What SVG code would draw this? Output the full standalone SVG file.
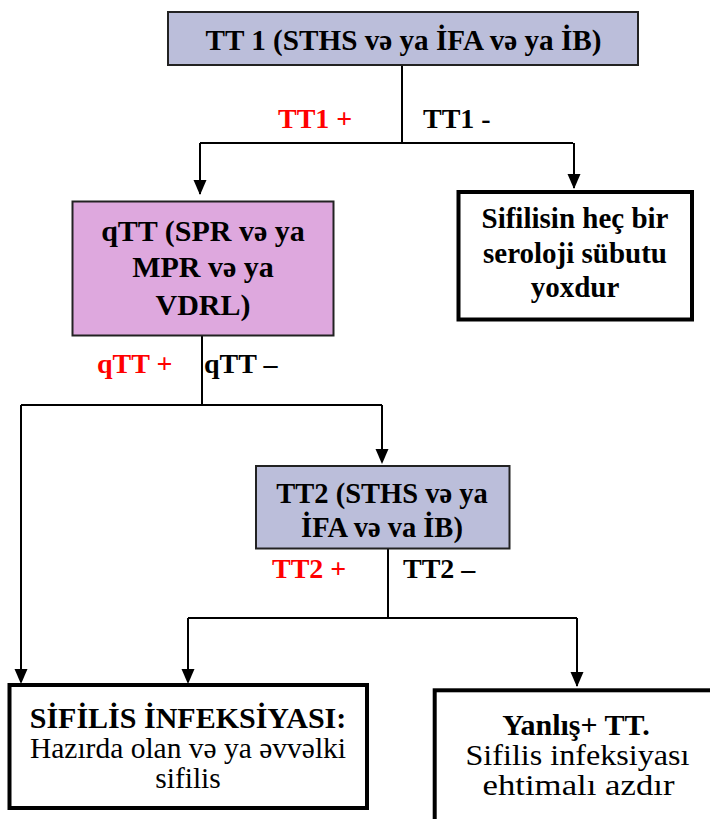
<svg xmlns="http://www.w3.org/2000/svg" width="710" height="819" viewBox="0 0 710 819">
<style>
.t{font-family:"Liberation Serif","Times New Roman","DejaVu Serif",serif;font-weight:bold;fill:#000}
.r{font-family:"Liberation Serif","Times New Roman","DejaVu Serif",serif;font-weight:normal;fill:#000}
.red{fill:#FF0000}
.c{text-anchor:middle}
.lav{fill:#BBBEDA;stroke:#222;stroke-width:2}
.plum{fill:#DEA8DE;stroke:#222;stroke-width:2}
.wb{fill:#fff;stroke:#000;stroke-width:4}
.ln{fill:none;stroke:#000;stroke-width:2}
.ah{fill:#000}
</style>
<rect width="710" height="819" fill="#fff"/>
<g id="connectors">
<path class="ln" d="M402,66 V143"/>
<path class="ln" d="M200,143 H573"/>
<path class="ln" d="M200,143 V194"/>
<path class="ah" d="M193.5,180 L206.5,180 L200,195 Z"/>
<path class="ln" d="M574,143 V188"/>
<path class="ah" d="M567.5,174 L580.5,174 L574,189 Z"/>
<path class="ln" d="M202,336 V405"/>
<path class="ln" d="M21,405 H382"/>
<path class="ln" d="M382,405 V462"/>
<path class="ah" d="M375.5,449 L388.5,449 L382,464 Z"/>
<path class="ln" d="M21,405 V682"/>
<path class="ah" d="M14.5,669 L27.5,669 L21,684 Z"/>
<path class="ln" d="M388,549 V618"/>
<path class="ln" d="M188,618 H577"/>
<path class="ln" d="M188,618 V682"/>
<path class="ah" d="M181.5,669 L194.5,669 L188,684 Z"/>
<path class="ln" d="M577,618 V686"/>
<path class="ah" d="M570.5,672 L583.5,672 L577,687 Z"/>
<text class="t red" x="278" y="128" font-size="28">TT1 +</text>
<text class="t" x="423" y="128" font-size="28">TT1 -</text>
<text class="t red" x="97" y="373" font-size="28">qTT +</text>
<text class="t" x="204" y="373" font-size="28">qTT –</text>
<text class="t red" x="272" y="578" font-size="28">TT2 +</text>
<text class="t" x="403" y="578" font-size="28">TT2 –</text>
</g>
<g id="tt1">
<rect class="lav" x="168" y="12" width="470" height="53"/>
<text class="t c" x="403.5" y="50" font-size="28.5" textLength="396" lengthAdjust="spacingAndGlyphs">TT 1 (STHS və ya İFA və ya İB)</text>
</g>
<g id="qtt">
<rect class="plum" x="72.5" y="201.5" width="261" height="134"/>
<text class="t c" x="203" y="241" font-size="30">qTT (SPR və ya</text>
<text class="t c" x="203" y="277" font-size="30">MPR və ya</text>
<text class="t c" x="203" y="315" font-size="30">VDRL)</text>
</g>
<g id="noevidence">
<rect class="wb" x="458.5" y="192" width="233.5" height="127.5"/>
<text class="t c" x="575" y="228" font-size="29">Sifilisin heç bir</text>
<text class="t c" x="575" y="263" font-size="29">seroloji sübutu</text>
<text class="t c" x="575" y="297" font-size="29">yoxdur</text>
</g>
<g id="tt2">
<rect class="lav" x="256" y="466" width="253.5" height="82.5"/>
<text class="t c" x="382" y="503" font-size="28.5">TT2 (STHS və ya</text>
<text class="t c" x="382" y="537" font-size="28.5">İFA və va İB)</text>
</g>
<g id="infection">
<rect class="wb" x="9.5" y="685" width="357.5" height="123"/>
<text class="t c" x="188" y="728" font-size="30">SİFİLİS İNFEKSİYASI:</text>
<text class="r c" x="188" y="758" font-size="29.5">Hazırda olan və ya əvvəlki</text>
<text class="r c" x="188" y="788" font-size="29.5">sifilis</text>
</g>
<g id="falsepositive">
<rect class="wb" x="434.7" y="690.3" width="300" height="200"/>
<text class="t c" x="576" y="735" font-size="30">Yanlış+ TT.</text>
<text class="r c" x="577.5" y="765" font-size="30" textLength="224" lengthAdjust="spacingAndGlyphs">Sifilis infeksiyası</text>
<text class="r c" x="578.5" y="795" font-size="30" textLength="192" lengthAdjust="spacingAndGlyphs">ehtimalı azdır</text>
</g>
</svg>
